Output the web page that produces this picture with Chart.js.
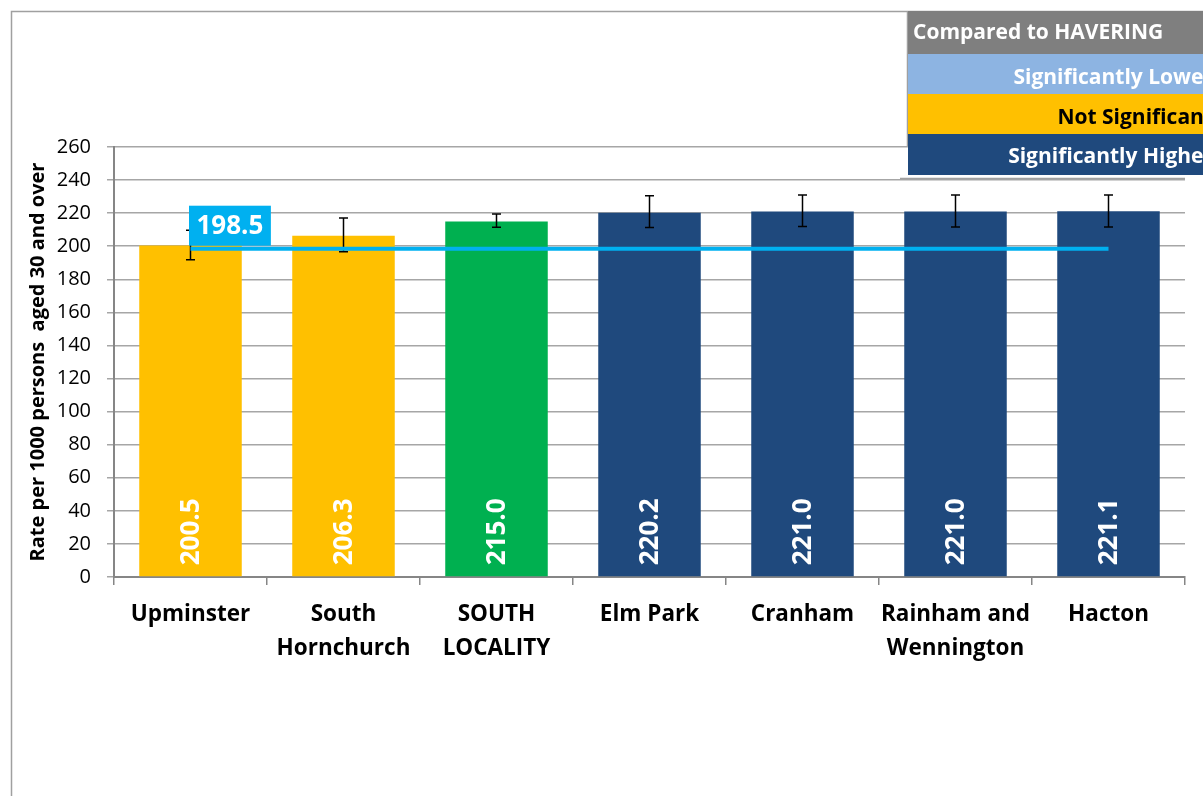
<!DOCTYPE html>
<html>
<head>
<meta charset="utf-8">
<script src="https://cdn.jsdelivr.net/npm/chart.js@4.4.1/dist/chart.umd.min.js"></script>
<style>
html, body { margin: 0; padding: 0; background: #fff; overflow: hidden; }
#chart { display: block; }
</style>
</head>
<body>
<canvas id="chart" width="1203" height="796"></canvas>
<script>
// values
const wards = ["Upminster", ["South", "Hornchurch"], ["SOUTH", "LOCALITY"], "Elm Park", "Cranham", ["Rainham and", "Wennington"], "Hacton"];
const rates = [200.5, 206.3, 215.0, 220.2, 221.0, 221.0, 221.1];
const lowerCI = [191.8, 196.6, 211.5, 211.4, 212.0, 211.6, 211.6];
const upperCI = [209.6, 217.0, 219.5, 230.5, 231.0, 231.0, 231.0];
const significance = ["not", "not", "locality", "higher", "higher", "higher", "higher"];
const havering = [198.5, 198.5, 198.5, 198.5, 198.5, 198.5, 198.5];
const yTicks = [0, 20, 40, 60, 80, 100, 120, 140, 160, 180, 200, 220, 240, 260];
const legendTitle = "Compared to HAVERING";
const legendRows = ["Significantly Lower", "Not Significant", "Significantly Higher"];

const FONT = "'Open Sans', Lato, sans-serif";
const sigColors = { lower: "#8db4e2", not: "#ffc000", locality: "#00b050", higher: "#1f497d" };

const frame = {
  id: "frame",
  beforeDraw(chart) {
    const ctx = chart.ctx;
    ctx.save();
    ctx.fillStyle = "#fff";
    ctx.fillRect(0, 0, chart.width, chart.height);
    ctx.strokeStyle = "#a0a0a0";
    ctx.lineWidth = 1.5;
    ctx.beginPath();
    ctx.moveTo(11.5, chart.height);
    ctx.lineTo(11.5, 11.5);
    ctx.lineTo(chart.width, 11.5);
    ctx.stroke();
    ctx.restore();
  }
};

const errorBars = {
  id: "errorBars",
  afterDatasetDraw(chart, args) {
    if (args.index !== 0) return;
    const ctx = chart.ctx;
    const y = chart.scales.y;
    ctx.save();
    ctx.strokeStyle = "#000";
    ctx.lineWidth = 1.5;
    args.meta.data.forEach((bar, i) => {
      const top = y.getPixelForValue(upperCI[i]);
      const bot = y.getPixelForValue(lowerCI[i]);
      ctx.beginPath();
      ctx.moveTo(bar.x, top); ctx.lineTo(bar.x, bot);
      ctx.moveTo(bar.x - 4.5, top); ctx.lineTo(bar.x + 4.5, top);
      ctx.moveTo(bar.x - 4.5, bot); ctx.lineTo(bar.x + 4.5, bot);
      ctx.stroke();
    });
    ctx.restore();
  }
};

const labels = {
  id: "labels",
  afterDatasetsDraw(chart) {
    const ctx = chart.ctx;
    ctx.save();
    // values inside bars
    chart.getDatasetMeta(0).data.forEach((bar, i) => {
      ctx.save();
      ctx.translate(bar.x, bar.base - 11);
      ctx.rotate(-Math.PI / 2);
      ctx.font = "bold 26px " + FONT;
      ctx.fillStyle = "#fff";
      ctx.textAlign = "left";
      ctx.textBaseline = "middle";
      ctx.fillText(rates[i].toFixed(1), 0, 1);
      ctx.restore();
    });
    // havering value box
    const p = chart.getDatasetMeta(1).data[0];
    const txt = havering[0].toFixed(1);
    ctx.font = "bold 26px " + FONT;
    const w = ctx.measureText(txt).width + 15;
    ctx.fillStyle = "#00b0f0";
    ctx.fillRect(p.x - 1.5, p.y - 43, w, 40);
    ctx.fillStyle = "#fff";
    ctx.textAlign = "center";
    ctx.textBaseline = "middle";
    ctx.fillText(txt, p.x - 1.5 + w / 2, p.y - 22);
    ctx.restore();
  },
  afterDraw(chart) {
    const ctx = chart.ctx;
    ctx.save();
    ctx.strokeStyle = "#a0a0a0";
    ctx.lineWidth = 1.5;
    ctx.beginPath();
    ctx.moveTo(907.5, 11); ctx.lineTo(907.5, 145.5); ctx.lineTo(chart.width, 145.5);
    ctx.moveTo(900, 178.5); ctx.lineTo(1185, 178.5);
    ctx.stroke();
    const rows = [
      { y: 11, h: 43, bg: "#7f7f7f", fg: "#fff", text: legendTitle, left: true, dy: 1 },
      { y: 54, h: 40, bg: sigColors.lower, fg: "#fff", text: legendRows[0], dy: 4 },
      { y: 94, h: 40, bg: sigColors.not, fg: "#000", text: legendRows[1], dy: 4 },
      { y: 134, h: 41, bg: sigColors.higher, fg: "#fff", text: legendRows[2], dy: 3 }
    ];
    ctx.font = "bold 21px " + FONT;
    ctx.textBaseline = "middle";
    rows.forEach(r => {
      ctx.fillStyle = r.bg;
      ctx.fillRect(908, r.y, chart.width - 908, r.h);
      ctx.fillStyle = r.fg;
      ctx.textAlign = r.left ? "left" : "right";
      ctx.fillText(r.text, r.left ? 913 : 1213, r.y + r.h / 2 + r.dy);
    });
    ctx.restore();
  }
};

new Chart(document.getElementById("chart"), {
  type: "bar",
  data: {
    labels: wards,
    datasets: [
      {
        type: "bar",
        data: rates,
        backgroundColor: significance.map(s => sigColors[s]),
        barPercentage: 0.67,
        categoryPercentage: 1.0,
        order: 2
      },
      {
        type: "line",
        data: havering,
        borderColor: "#00b0f0",
        borderWidth: 4,
        pointRadius: 0,
        fill: false,
        order: 1
      }
    ]
  },
  options: {
    responsive: false,
    animation: false,
    devicePixelRatio: 1,
    layout: { padding: { top: 147, left: 0, right: 18, bottom: 0 } },
    plugins: { legend: { display: false }, tooltip: { enabled: false } },
    scales: {
      x: {
        afterFit: s => { s.height = 219; },
        grid: { drawOnChartArea: false, drawTicks: true, tickLength: 8, color: "#868686", lineWidth: 1.5, offset: true },
        border: { color: "#868686", width: 2 },
        ticks: {
          color: "#000",
          padding: 13,
          maxRotation: 0,
          autoSkip: false,
          font: { family: FONT, size: 22.5, weight: "bold", lineHeight: "34px" }
        }
      },
      y: {
        min: 0,
        max: 260,
        afterFit: s => { s.width = 114; },
        afterBuildTicks: s => { s.ticks = yTicks.map(v => ({ value: v })); },
        grid: { color: "#a6a6a6", lineWidth: 1.5, tickLength: 7 },
        border: { color: "#868686", width: 2 },
        ticks: { color: "#000", padding: 16, font: { family: FONT, size: 20 } },
        title: {
          display: true,
          text: "Rate per 1000 persons  aged 30 and over",
          color: "#000",
          padding: { top: 26, bottom: 0 },
          font: { family: FONT, size: 20, weight: "bold" }
        }
      }
    }
  },
  plugins: [frame, errorBars, labels]
});
</script>
</body>
</html>
